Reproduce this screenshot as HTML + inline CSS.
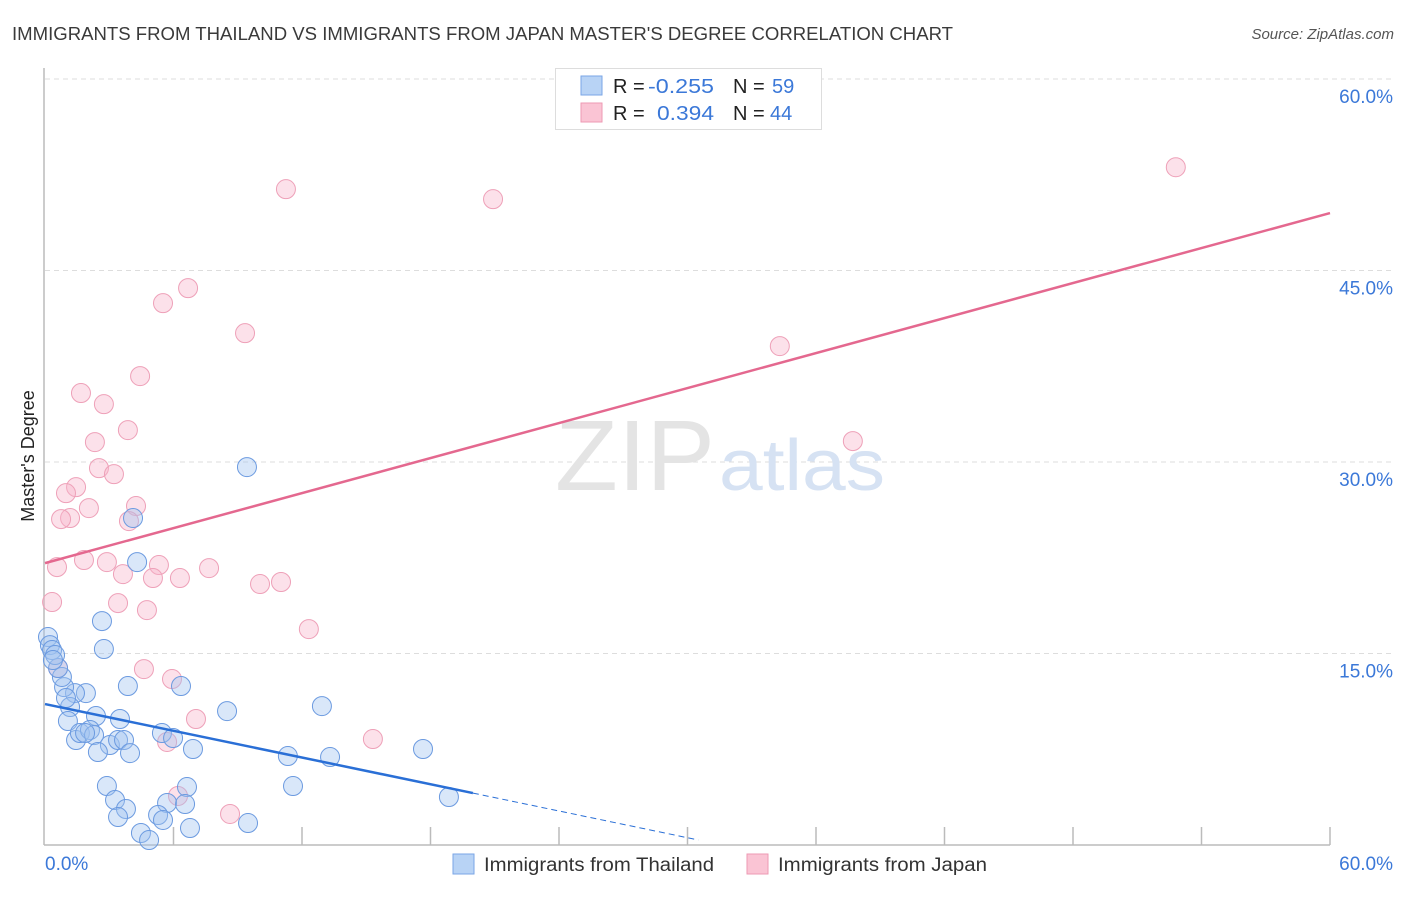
<!DOCTYPE html>
<html><head><meta charset="utf-8">
<style>
body{margin:0;background:#fff;font-family:"Liberation Sans",sans-serif;}
svg text{font-family:"Liberation Sans",sans-serif;}
</style></head>
<body>
<svg id="chart" width="1406" height="892" viewBox="0 0 1406 892">
<text x="12" y="40" font-size="18" fill="#3a3a3a" textLength="941" lengthAdjust="spacingAndGlyphs">IMMIGRANTS FROM THAILAND VS IMMIGRANTS FROM JAPAN MASTER'S DEGREE CORRELATION CHART</text>
<text x="1394" y="39" font-size="15" fill="#555" font-style="italic" text-anchor="end">Source: ZipAtlas.com</text>
<g id="grid"></g>
<text x="555" y="490" font-size="100" fill="#e4e4e4" textLength="160" lengthAdjust="spacingAndGlyphs" font-family="Liberation Serif">ZIP</text>
<text x="719" y="490" font-size="72" fill="#d6e2f3" textLength="166" lengthAdjust="spacingAndGlyphs">atlas</text>
<line x1="44" y1="68" x2="44" y2="845" stroke="#bbb" stroke-width="1.5"/>
<line x1="44" y1="845" x2="1330" y2="845" stroke="#bbb" stroke-width="1.5"/>
<g id="xticks"></g>
<g id="ylabels"></g>
<text x="45" y="870" font-size="19" fill="#3b78d8">0.0%</text>
<text x="1393" y="870" font-size="19" fill="#3b78d8" text-anchor="end">60.0%</text>
<text transform="translate(34,456) rotate(-90)" font-size="18" fill="#222" text-anchor="middle">Master's Degree</text>
<g id="pts"></g>
<g id="lines"></g>
<g>
<rect x="555.5" y="68.5" width="266" height="61" fill="#fff" stroke="#ddd"/>
<rect x="581" y="76" width="21" height="19" fill="#b8d3f5" stroke="#7aa6e6"/>
<rect x="581" y="103" width="21" height="19" fill="#fac4d4" stroke="#ee9ab3"/>
<text x="613" y="93" font-size="20" fill="#222">R = </text><text x="648" y="93" font-size="20" fill="#3b78d8" textLength="66" lengthAdjust="spacingAndGlyphs">-0.255</text>
<text x="733" y="93" font-size="20" fill="#222">N = </text><text x="772" y="93" font-size="20" fill="#3b78d8">59</text>
<text x="613" y="120" font-size="20" fill="#222">R = </text><text x="657" y="120" font-size="20" fill="#3b78d8" textLength="57" lengthAdjust="spacingAndGlyphs">0.394</text>
<text x="733" y="120" font-size="20" fill="#222">N = </text><text x="770" y="120" font-size="20" fill="#3b78d8">44</text>
</g>
<g>
<rect x="453" y="854" width="21" height="20" fill="#b8d3f5" stroke="#7aa6e6"/>
<text x="484" y="871" font-size="19" fill="#333" textLength="230" lengthAdjust="spacingAndGlyphs">Immigrants from Thailand</text>
<rect x="747" y="854" width="21" height="20" fill="#fac4d4" stroke="#ee9ab3"/>
<text x="778" y="871" font-size="19" fill="#333" textLength="209" lengthAdjust="spacingAndGlyphs">Immigrants from Japan</text>
</g>
</svg>
<script>
const yTicks=[15,30,45,60];
const xTickVals=[6,12,18,24,30,36,42,48,54,60];
const blueX=[9.43,4.11,4.30,2.66,2.75,3.87,6.35,8.50,12.93,1.91,1.40,0.89,0.79,0.61,1.17,1.07,2.38,3.50,1.45,1.63,2.10,2.29,1.87,3.03,3.41,3.69,2.47,3.97,5.46,5.98,6.91,11.34,13.31,17.65,18.86,2.89,3.27,3.78,3.41,11.58,6.63,5.70,6.54,5.28,5.51,6.77,9.48,4.48,4.86,0.14,0.23,0.33,0.47,0.37,0.98];
const blueY=[29.60,25.61,22.16,17.54,15.35,12.45,12.45,10.49,10.88,11.90,11.90,12.37,13.16,13.86,10.81,9.71,10.10,9.87,8.22,8.77,9.01,8.61,8.77,7.83,8.22,8.22,7.28,7.20,8.77,8.38,7.52,6.97,6.89,7.52,3.76,4.62,3.52,2.82,2.19,4.62,4.54,3.29,3.21,2.35,1.96,1.33,1.72,0.94,0.39,16.29,15.66,15.27,14.88,14.49,11.51];
const pinkX=[52.80,11.25,20.92,6.68,5.51,9.34,34.31,4.44,1.68,2.75,3.87,37.72,2.33,2.52,3.22,1.45,0.98,2.05,4.25,1.17,0.75,3.92,1.82,2.89,5.32,7.66,3.64,5.04,6.30,10.04,11.02,0.56,0.33,3.41,4.76,12.32,4.62,5.93,0.61,7.05,15.31,5.70,6.21,8.64];
const pinkY=[53.09,51.37,50.59,43.62,42.44,40.09,39.08,36.73,35.40,34.53,32.50,31.64,31.56,29.52,29.05,28.03,27.56,26.39,26.55,25.61,25.53,25.37,22.32,22.16,21.93,21.69,21.22,20.91,20.91,20.44,20.60,21.77,19.03,18.95,18.40,16.91,13.78,13.00,13.86,9.87,8.30,8.07,3.84,2.43];
const blueTrend=[11.04,-0.349];
const pinkTrend=[22.08,0.457];
const NS="http://www.w3.org/2000/svg";
function sx(v){return 45+v*1285/60;}
function sy(v){return 845-v*766/60;}
function mk(t,a,p){const e=document.createElementNS(NS,t);for(const k in a)e.setAttribute(k,a[k]);p.appendChild(e);return e;}
const grid=document.getElementById('grid'),yl=document.getElementById('ylabels'),xt=document.getElementById('xticks');
yTicks.forEach(v=>{
 const l=mk('line',{x1:45,x2:1393,y1:sy(v),y2:sy(v),stroke:'#ddd','stroke-dasharray':'5,4'},grid);
 
 
 const t=mk('text',{x:1393,y:sy(v)+24,'font-size':19,fill:'#3b78d8','text-anchor':'end'},yl);
 t.textContent=v.toFixed(1)+'%';
 
 
});
xTickVals.forEach(v=>{
 const l=mk('line',{x1:sx(v),x2:sx(v),y1:827,y2:845,stroke:'#bbb','stroke-width':1.5},xt);
 
 
});
const pts=document.getElementById('pts');
pinkX.forEach((x,i)=>{
 const c=mk('circle',{cx:sx(x),cy:sy(pinkY[i]),r:9.5,fill:'rgba(247,180,202,0.4)',stroke:'#eea0b8','stroke-width':1},pts);
 
 
});
blueX.forEach((x,i)=>{
 const c=mk('circle',{cx:sx(x),cy:sy(blueY[i]),r:9.5,fill:'rgba(160,196,240,0.4)',stroke:'#6b9ae0','stroke-width':1},pts);
 
 
});
const ln=document.getElementById('lines');
const bEnd=19.98,bDash=30.5;
let l1=mk('line',{x1:sx(0),y1:sy(blueTrend[0]),x2:sx(bEnd),y2:sy(blueTrend[0]+blueTrend[1]*bEnd),stroke:'#2a6fd6','stroke-width':2.5},ln);


let l2=mk('line',{x1:sx(bEnd),y1:sy(blueTrend[0]+blueTrend[1]*bEnd),x2:sx(bDash),y2:sy(blueTrend[0]+blueTrend[1]*bDash),stroke:'#2a6fd6','stroke-width':1,'stroke-dasharray':'6,4'},ln);


let l3=mk('line',{x1:sx(0),y1:sy(pinkTrend[0]),x2:sx(60),y2:sy(pinkTrend[0]+pinkTrend[1]*60),stroke:'#e4688f','stroke-width':2.5},ln);


</script>
</body></html>
